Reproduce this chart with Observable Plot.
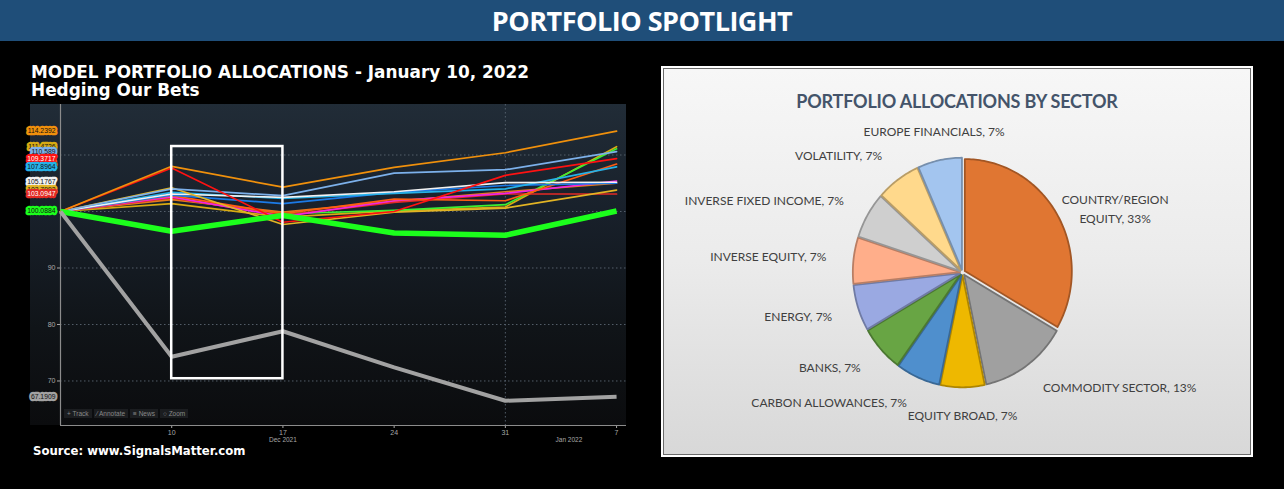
<!DOCTYPE html>
<html>
<head>
<meta charset="utf-8">
<script src="https://cdn.jsdelivr.net/npm/d3@7"></script>
<script src="https://cdn.jsdelivr.net/npm/@observablehq/plot@0.6"></script>
<style>
  html, body { margin: 0; padding: 0; }
  body { background: #000; width: 1284px; height: 489px; overflow: hidden; position: relative; font-family: "DejaVu Sans", sans-serif; }
  #hdr { position: absolute; left: 0; top: 0; width: 1284px; height: 41px; background: #1f4e79; color: #fff;
         font: 700 27px "Open Sans", sans-serif; text-align: center; line-height: 41px; letter-spacing: -0.5px; }
  #ttl { position: absolute; left: 31px; top: 63px; color: #fff; font: 700 16.9px "DejaVu Sans", sans-serif; line-height: 18px; white-space: nowrap; }
  #src { position: absolute; left: 33px; top: 444px; color: #fff; font: 700 11.7px "DejaVu Sans", sans-serif; white-space: nowrap; }
  #panel { position: absolute; left: 30px; top: 104px; width: 596px; height: 321px;
           background: linear-gradient(to bottom, #212c37 0%, #18202a 35%, #101418 70%, #0b0c0e 100%); }
  #lc { position: absolute; left: 30px; top: 104px; }
  #tools { position: absolute; left: 64px; top: 410px; font: 6.5px "Liberation Sans", sans-serif; color: #8a8a8a; white-space: nowrap; }
  #tools span { background: #1b1d20; padding: 1px 3px; margin-right: 2px; }
  #box { position: absolute; left: 661px; top: 66px; width: 588px; height: 387px; border: 2px solid #fff; }
  #inner { position: absolute; left: 0; top: 0; width: 586px; height: 385px; border: 1px solid #6a6a6a;
           background: linear-gradient(to bottom, #f7f7f7 0%, #ebebeb 50%, #d8d8d8 100%); }
  #ptitle { position: absolute; left: 0; width: 588px; top: 22px; text-align: center; color: #44546a;
            font: 700 18px "Lato", sans-serif; letter-spacing: -0.2px; }
  #pie { position: absolute; left: 664px; top: 69px; }
</style>
</head>
<body>
<div id="hdr">PORTFOLIO SPOTLIGHT</div>
<div id="ttl">MODEL PORTFOLIO ALLOCATIONS - January 10, 2022<br>Hedging Our Bets</div>
<div id="panel"></div>
<div id="lc"></div>
<div id="tools"><span>+ Track</span><span>⁄ Annotate</span><span>≡ News</span><span>○ Zoom</span></div>
<div id="src">Source: www.SignalsMatter.com</div>
<div id="box"><div id="inner"></div><div id="ptitle">PORTFOLIO ALLOCATIONS BY SECTOR</div></div>
<div id="pie"></div>
<script>
// ---------------- LINE CHART DATA ----------------
const weekDates = ["2021-12-03", "2021-12-10", "2021-12-17", "2021-12-24", "2021-12-31", "2022-01-07"];
const gold2      = [100, 101.4, 99.0, 100.1, 100.8, 111.4726];
const greenThin  = [100, 102.3, 99.6, 100.2, 101.2, 111.1];
const orange3    = [100, 102.1, 99.9, 101.8, 103.5, 105.0];
const red2       = [100, 102.4, 99.3, 101.6, 103.1, 103.0947];
const magenta    = [100, 102.6, 99.1, 101.9, 103.2, 105.4];
const orangeRed  = [100, 102.8, 99.6, 102.2, 101.9, 108.4];
const blue       = [100, 102.9, 101.4, 103.4, 104.6, 105.0];
const cyan       = [100, 103.4, 102.3, 103.2, 104.0, 107.8964];
const white      = [100, 103.1, 102.5, 103.5, 105.1, 105.1767];
const gold       = [100, 104.2, 97.7, 99.9, 100.6, 103.7992];
const lightBlue  = [100, 104.0, 102.8, 106.8, 107.4, 110.589];
const red        = [100, 107.7, 98.1, 100.0, 106.4, 109.3717];
const orange     = [100, 108.0, 104.3, 107.8, 110.4, 114.2392];
const greenThick = [100, 96.5, 99.3, 96.2, 95.8, 100.0884];
const gray       = [100, 74.3, 78.8, 72.4, 66.5, 67.1909];
const gridValues = [70, 80, 90, 100, 110];
const yTickLabels = [70, 80, 90];
const monthLabels = [{date: "2021-12-17", text: "Dec 2021"}, {date: "2022-01-04", text: "Jan 2022"}];
const highlight = [{from: "2021-12-10", to: "2021-12-17", low: 70.4, high: 111.5}];

// ---------------- PIE DATA ----------------
const sectors  = ["COUNTRY/REGION EQUITY", "COMMODITY SECTOR", "EQUITY BROAD", "CARBON ALLOWANCES", "BANKS",
                  "ENERGY", "INVERSE EQUITY", "INVERSE FIXED INCOME", "VOLATILITY", "EUROPE FINANCIALS"];
const holdings = [5, 2, 1, 1, 1, 1, 1, 1, 1, 1];

// ---------------- STYLES ----------------
const seriesData = {gold2, greenThin, orange3, red2, magenta, orangeRed, blue, cyan, white, gold, lightBlue, red, orange, greenThick, gray};
const lineColor = {gold2: "#d8aa12", greenThin: "#3cf032", orange3: "#e47a1c", red2: "#e42a24", magenta: "#f024e4",
  orangeRed: "#ff5c12", blue: "#1c7ae6", cyan: "#26b2e8", white: "#f2f2f2", gold: "#e2b424", lightBlue: "#7cb0ea",
  red: "#ff1212", orange: "#f0900c", greenThick: "#1cff1c", gray: "#a2a2a2"};
const pieColor = ["#e07632", "#a0a0a0", "#eeb800", "#4f8fcd", "#68a544", "#9aa9e2", "#ffae8a", "#cfcfcf", "#ffd98c", "#a3c5ef"];

const dates = weekDates.map(d => new Date(d));
const names = Object.keys(seriesData);
const rows = names.flatMap(n => seriesData[n].map((v, i) => ({series: n, date: dates[i], value: v})));
const thin = rows.filter(r => r.series !== "greenThick" && r.series !== "gray");
const labelOrder = ["gold2", "orangeRed", "orange", "lightBlue", "red", "cyan", "white", "gold", "red2", "greenThick", "gray"];
const endLabels = labelOrder.map(n => ({series: n, date: dates[0], value: seriesData[n][seriesData[n].length - 1]}));
const yMin = 62.12, yMax = 118.94;
const xEnd = new Date("2022-01-07T15:00:00Z");
const txtCol = n => d3.lab(lineColor[n]).l < 62 ? "#ffffff" : "#111111";

const lineChart = Plot.plot({
  width: 596, height: 345, marginLeft: 30, marginRight: 0, marginTop: 0, marginBottom: 24,
  style: {background: "transparent", color: "#a8a8a8", fontSize: "7px", fontFamily: "Liberation Sans, Arial, sans-serif", overflow: "visible"},
  x: {type: "utc", domain: [dates[0], xEnd], ticks: dates.slice(1), tickFormat: d => d.getUTCDate(), tickSize: 3, tickPadding: 2, label: null},
  y: {domain: [yMin, yMax], ticks: yTickLabels, tickSize: 3, tickPadding: 2, label: null},
  color: {type: "identity"},
  marks: [
    Plot.ruleY(gridValues, {stroke: "#5b6672", strokeDasharray: "1.5,2.5", strokeOpacity: 0.9}),
    Plot.ruleX([dates[4]], {stroke: "#5b6672", strokeDasharray: "1.5,2.5", strokeOpacity: 0.9}),
    Plot.ruleX([dates[0]], {stroke: "#8c8c8c", strokeWidth: 1.2}),
    Plot.ruleY([yMin], {stroke: "#8c8c8c", strokeWidth: 1.2}),
    Plot.line(thin, {x: "date", y: "value", z: "series", stroke: d => lineColor[d.series], strokeWidth: 1.7}),
    Plot.line(rows.filter(r => r.series === "greenThick"), {x: "date", y: "value", stroke: lineColor.greenThick, strokeWidth: 5.5, strokeLinecap: "butt"}),
    Plot.line(rows.filter(r => r.series === "gray"), {x: "date", y: "value", stroke: lineColor.gray, strokeWidth: 4, strokeLinecap: "butt"}),
    Plot.rect(highlight, {x1: d => new Date(d.from), x2: d => new Date(d.to), y1: "low", y2: "high", fill: "none", stroke: "#ffffff", strokeWidth: 2.5}),
    Plot.text(endLabels, {x: "date", y: "value", text: d => String(d.value), textAnchor: "end", dx: -5,
      fill: d => txtCol(d.series), stroke: d => lineColor[d.series], strokeWidth: 4.5, paintOrder: "stroke",
      strokeLinejoin: "round", fontSize: 6.8}),
    Plot.text(monthLabels, {x: d => new Date(d.date), frameAnchor: "bottom", dy: 16, text: "text", fill: "#a8a8a8", fontSize: 6.5})
  ]
});
document.getElementById("lc").appendChild(lineChart);

// ---------------- PIE ----------------
const total = d3.sum(holdings);
const arcs = d3.pie().sort(null)(holdings);
const explode = 0.025;
const slicePts = arcs.flatMap((a, i) => {
  const mid = (a.startAngle + a.endAngle) / 2;
  const ox = Math.sin(mid) * explode, oy = Math.cos(mid) * explode;
  const n = Math.max(4, Math.ceil((a.endAngle - a.startAngle) / 0.02));
  const pts = [{x: ox, y: oy}];
  for (let k = 0; k <= n; k++) {
    const t = a.startAngle + (a.endAngle - a.startAngle) * k / n;
    pts.push({x: ox + Math.sin(t), y: oy + Math.cos(t)});
  }
  pts.push({x: ox, y: oy});
  return pts.map(p => ({...p, i}));
});
const labelRows = arcs.map((a, i) => {
  const mid = (a.startAngle + a.endAngle) / 2;
  const s = Math.sin(mid), c = Math.cos(mid);
  let txt = `${sectors[i]}, ${Math.round(holdings[i] / total * 100)}%`;
  const wrapped = s > 0.3 && txt.length > 24;
  if (wrapped) txt = txt.replace(" ", "\n");
  return {x: s * 1.28, y: c * 1.28, s, text: txt, wrapped};
});
const labelStyle = {x: "x", y: "y", text: "text", fill: "#404040", fontSize: 12, fontFamily: "Lato, sans-serif"};
const pie = Plot.plot({
  width: 586, height: 385,
  style: {background: "transparent", overflow: "visible"},
  x: {domain: [-1, 1], range: [191, 405], axis: null},
  y: {domain: [-1, 1], range: [315, 91], axis: null},
  color: {type: "identity"},
  marks: [
    Plot.line(slicePts, {x: "x", y: "y", z: "i", fill: d => pieColor[d.i], stroke: d => d3.color(pieColor[d.i]).darker(0.9).formatHex(),
      strokeWidth: 1.8, strokeLinejoin: "round"}),
    Plot.text(labelRows.filter(d => Math.abs(d.s) < 0.25), {...labelStyle, textAnchor: "middle"}),
    Plot.text(labelRows.filter(d => d.s >= 0.25 && !d.wrapped), {...labelStyle, textAnchor: "start"}),
    Plot.text(labelRows.filter(d => d.wrapped), {...labelStyle, textAnchor: "middle", lineHeight: 1.55, dx: 34, dy: 7}),
    Plot.text(labelRows.filter(d => d.s <= -0.25), {...labelStyle, textAnchor: "end"})
  ]
});
document.getElementById("pie").appendChild(pie);
</script>
</body>
</html>
